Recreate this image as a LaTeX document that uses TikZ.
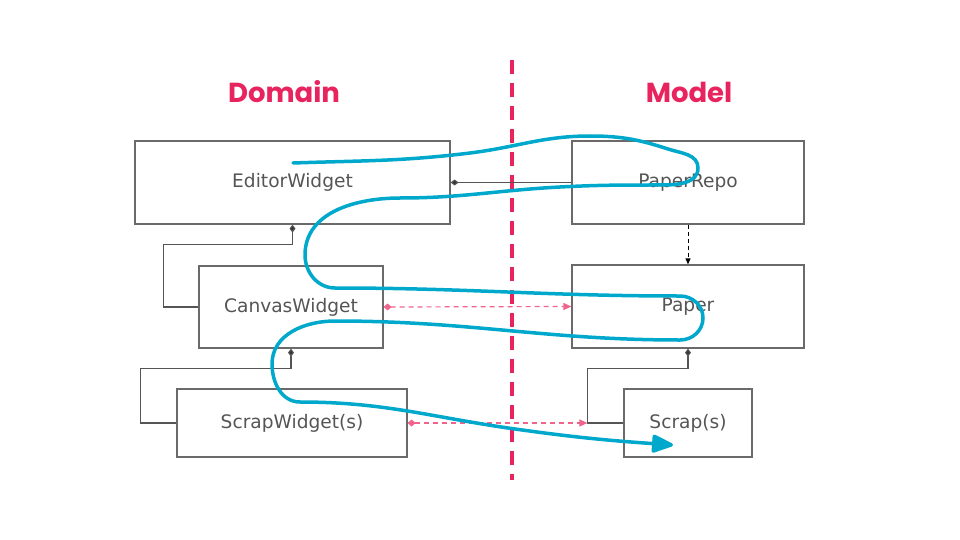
\documentclass[tikz,border=0pt]{standalone}
\usepackage{fontspec}
\setmainfont{DejaVu Sans}
\newfontfamily\titlefont{Poppins}
\usetikzlibrary{arrows.meta,calc}
\definecolor{pinkred}{HTML}{E8245F}
\definecolor{lightpink}{HTML}{F0648C}
\definecolor{flowblue}{HTML}{00A8CC}
\definecolor{boxgray}{HTML}{6A6A6A}
\definecolor{textgray}{HTML}{555555}

\begin{document}
\begin{tikzpicture}[x=1pt, y=-1pt,
    box/.style={draw=boxgray, line width=1.2pt, text=textgray, inner sep=0pt,
      font=\fontsize{18.6}{20}\selectfont},
    title/.style={text=pinkred, font=\titlefont\bfseries\fontsize{27.5}{30}\selectfont},
    comp/.style={draw=boxgray!80!black, line width=1.1pt, -{Diamond[length=8pt,width=6pt,fill=black!80]}},
    link/.style={draw=lightpink, line width=1.2pt, dash pattern=on 5pt off 4pt,
      {Diamond[length=8pt,width=7pt]}-{Triangle[length=8pt,width=7pt]}},
    flow/.style={draw=flowblue, line width=3.5pt, line cap=round,
      -{Triangle[length=24pt,width=19pt,round]}}]
  \useasboundingbox (0,0) rectangle (960,540);
  % titles
  \node[title] (domain) at (284,92) {Domain};
  \node[title] (model) at (689,92) {Model};
  \draw[pinkred, line width=4pt, dash pattern=on 14pt off 9pt] (512,60) -- (512,480);
  % domain side
  \node[box, minimum width=315pt, minimum height=83pt] (editor) at (292.5,182.5) {EditorWidget};
  \node[box, minimum width=184pt, minimum height=82pt] (canvas) at (291,307) {CanvasWidget};
  \node[box, minimum width=230pt, minimum height=68pt] (scrapw) at (292,423) {ScrapWidget(s)};
  % model side
  \node[box, minimum width=232pt, minimum height=83pt] (prepo) at (688,182.5) {PaperRepo};
  \node[box, minimum width=232pt, minimum height=83pt] (paper) at (688,306.5) {Paper};
  \node[box, minimum width=128pt, minimum height=68pt] (scrap) at (688,423) {Scrap(s)};
  % composition
  \draw[comp] (prepo.west) -- (editor.east);
  \draw[comp] (canvas.west) -- ++(-35,0) |- ([yshift=-20pt]editor.south) -- (editor.south);
  \draw[comp] (scrapw.west) -- ++(-36,0) |- ([yshift=-20pt]canvas.south) -- (canvas.south);
  \draw[comp] (scrap.west) -- ++(-36,0) coordinate (sj) |- ([yshift=-20pt]paper.south) -- (paper.south);
  \draw[black, line width=0.9pt, dash pattern=on 4pt off 3pt, -{Triangle[length=6pt,width=5pt]}]
    (prepo.south) -- (paper.north);
  % domain <-> model
  \draw[link] (canvas.east) -- (paper.west);
  \draw[link] (scrapw.east) -- (sj);
  % flow
  \draw[flow] (293,163) to[out=2,in=187] (470,153) to[out=7,in=180] (590,136)
    to[out=0,in=162] (668,149) to[out=-18,in=90] (698,168)
    to[out=-90,in=0] (662,185) to[out=180,in=3] (560,187)
    to[out=183,in=0] (400,198)
    to[out=180,in=90] (305,255) to[out=-90,in=180] (335,288)
    to[out=0,in=180] (680,296) to[out=0,in=90] (703,318)
    to[out=-90,in=0] (680,340) to[out=180,in=0] (335,321)
    to[out=180,in=90] (272,364) to[out=-90,in=180] (300,402)
    to[out=0,in=172] (515,429) to[out=-8,in=176] (673,445);
\end{tikzpicture}
\end{document}
